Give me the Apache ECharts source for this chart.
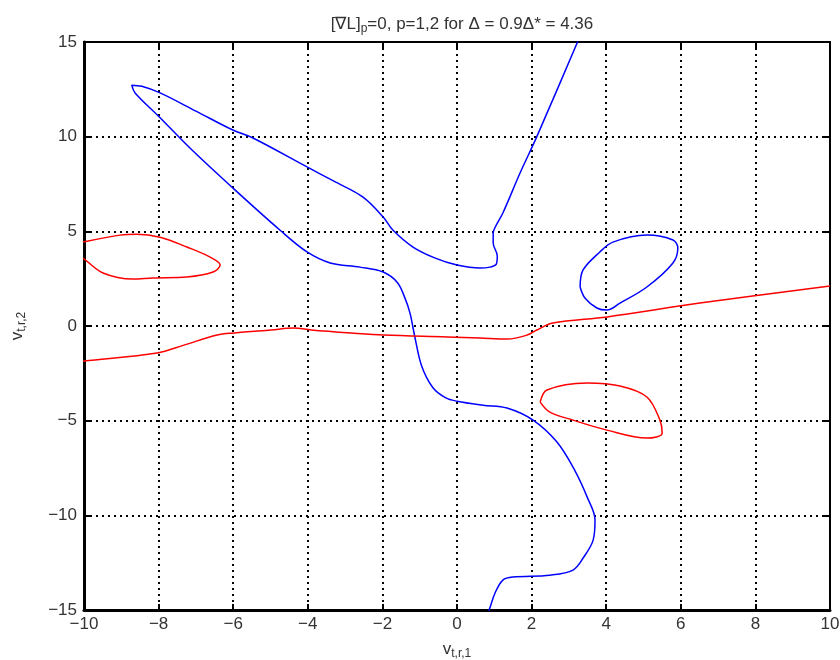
<!DOCTYPE html>
<html>
<head>
<meta charset="utf-8">
<script src="https://cdn.jsdelivr.net/npm/echarts@6/dist/echarts.min.js"></script>
<style>html,body{margin:0;padding:0;background:#fff;}#c{width:840px;height:660px;}</style>
</head>
<body>
<div id="c"></div>
<script>
var xTicks = [-10, -8, -6, -4, -2, 0, 2, 4, 6, 8, 10];
var yTicks = [-15, -10, -5, 0, 5, 10, 15];

// Blue curve: top -> big loop -> down to bottom
var blueMain = [
  [3.27, 15.2], [3.22, 14.95], [2.14, 10.0], [1.69, 8.08], [1.23, 5.97], [1.02, 5.2], [0.97, 4.91],
  [0.97, 4.38], [1.08, 3.7], [1.05, 3.25], [0.88, 3.11], [0.62, 3.06], [0.00, 3.22], [-0.6, 3.6],
  [-1.18, 4.17], [-1.72, 5.07], [-1.98, 5.76], [-2.52, 6.81], [-3.3, 7.65], [-4.02, 8.40],
  [-5.47, 9.93], [-6.01, 10.35], [-7.0, 11.35], [-7.96, 12.31], [-8.45, 12.66], [-8.72, 12.72],
  [-8.63, 12.31], [-7.98, 11.04], [-7.16, 9.40], [-6.01, 7.29], [-4.75, 5.07],
  [-4.02, 3.91], [-3.40, 3.33], [-2.60, 3.11], [-1.98, 2.85], [-1.60, 2.30], [-1.40, 1.50],
  [-1.26, 0.68], [-1.13, -0.58], [-0.95, -2.1], [-0.65, -3.25], [-0.30, -3.80], [0.00, -3.97],
  [0.7, -4.18], [1.34, -4.33], [2.04, -4.97], [2.68, -6.13], [3.15, -7.6], [3.49, -9.04],
  [3.70, -10.25], [3.65, -11.31], [3.40, -12.20], [3.11, -12.89], [2.49, -13.16], [1.50, -13.26],
  [1.23, -13.42], [1.02, -14.10], [0.88, -14.90], [0.80, -15.3]
];
// Blue small closed loop
var blueLoop = [
  [3.30, 2.06], [3.38, 2.96], [3.83, 3.91], [4.18, 4.43], [5.09, 4.80], [5.79, 4.54],
  [5.92, 4.12], [5.79, 3.33], [5.09, 2.06], [4.37, 1.21], [4.02, 0.84], [3.75, 0.95],
  [3.43, 1.48], [3.30, 2.06]
];
// Red long curve
var redMain = [
  [-10.2, -1.9], [-10.0, -1.85], [-8.04, -1.43], [-7.32, -1.01], [-6.43, -0.48],
  [-5.98, -0.37], [-4.99, -0.21], [-4.37, -0.11], [-3.91, -0.21], [-2.84, -0.37],
  [-1.96, -0.48], [-0.27, -0.58], [0.62, -0.64], [1.34, -0.69], [1.88, -0.48],
  [2.14, -0.21], [2.57, 0.16], [4.02, 0.48], [6.51, 1.21], [10.0, 2.11]
];
// Red loop upper left (partly outside)
var redLoopLeft = [
  [-10.5, 4.2], [-10.03, 4.43], [-9.03, 4.80], [-8.58, 4.85], [-7.96, 4.69], [-7.24, 4.17],
  [-6.62, 3.64], [-6.35, 3.22], [-6.54, 2.85], [-7.24, 2.59], [-8.15, 2.54], [-8.69, 2.48],
  [-9.49, 2.80], [-10.03, 3.59], [-10.5, 4.2]
];
// Red loop lower right
var redLoopRight = [
  [2.23, -4.02], [2.41, -3.38], [3.49, -3.01], [4.37, -3.17], [5.09, -3.75], [5.44, -4.97],
  [5.50, -5.66], [5.09, -5.92], [4.02, -5.50], [3.11, -4.97], [2.49, -4.55], [2.23, -4.02]
];

var chart = echarts.init(document.getElementById('c'));
var FONT = 'Liberation Sans, Arial, sans-serif';
var gridLine = {show: true, lineStyle: {color: '#000', type: [2, 4], width: 2}};
function fmt(v) { return String(v).replace('-', '\u2212'); }
function line(data, color) {
  return {type: 'line', data: data, showSymbol: false, smooth: 0.35, clip: true,
    lineStyle: {color: color, width: 1.5}, itemStyle: {color: color}, z: 5, animation: false};
}
var subRich = {sub: {fontSize: 12, verticalAlign: 'bottom', padding: [10, 0, 0, 0], color: '#333', fontFamily: FONT}};
chart.setOption({
  animation: false,
  backgroundColor: '#fff',
  title: {
    text: '[\u2207L]{sub|p}=0, p=1,2 for \u0394 = 0.9\u0394* = 4.36',
    left: 457, top: 9, textAlign: 'center',
    textStyle: {fontFamily: FONT, fontSize: 17, fontWeight: 'normal', color: '#333',
      rich: {sub: {fontSize: 12, verticalAlign: 'bottom', padding: [9, 0, 0, 0], fontFamily: FONT, color: '#333'}}}
  },
  grid: {left: 84, right: 10, top: 42, bottom: 50, containLabel: false, outerBoundsMode: 'none',
    show: true, borderColor: '#000', borderWidth: 2, backgroundColor: '#fff'},
  xAxis: [{
    type: 'value', min: -10, max: 10, interval: 2, position: 'bottom',
    axisLine: {show: true, onZero: false, lineStyle: {color: '#000', width: 3}},
    axisTick: {show: true, inside: true, length: 6, lineStyle: {color: '#000', width: 2}},
    axisLabel: {color: '#333', fontSize: 17, fontFamily: FONT, margin: 6, formatter: fmt},
    splitLine: gridLine,
    name: 'v{sub|t,r,1}', nameLocation: 'middle', nameGap: 28,
    nameTextStyle: {color: '#333', fontSize: 17, fontFamily: FONT, rich: subRich}
  }, {
    type: 'value', min: -10, max: 10, interval: 2, position: 'top',
    axisLine: {show: true, onZero: false, lineStyle: {color: '#000', width: 2}},
    axisTick: {show: true, inside: true, length: 6, lineStyle: {color: '#000', width: 2}},
    axisLabel: {show: false}, splitLine: {show: false}
  }],
  yAxis: [{
    type: 'value', min: -15, max: 15, interval: 5, position: 'left',
    axisLine: {show: true, onZero: false, lineStyle: {color: '#000', width: 3}},
    axisTick: {show: true, inside: true, length: 6, lineStyle: {color: '#000', width: 2}},
    axisLabel: {color: '#333', fontSize: 17, fontFamily: FONT, margin: 7, formatter: fmt},
    splitLine: gridLine,
    name: 'v{sub|t,r,2}', nameLocation: 'middle', nameGap: 56, nameRotate: 90,
    nameTextStyle: {color: '#333', fontSize: 17, fontFamily: FONT, rich: subRich}
  }, {
    type: 'value', min: -15, max: 15, interval: 5, position: 'right',
    axisLine: {show: true, onZero: false, lineStyle: {color: '#000', width: 2}},
    axisTick: {show: true, inside: true, length: 6, lineStyle: {color: '#000', width: 2}},
    axisLabel: {show: false}, splitLine: {show: false}
  }],
  series: [
    line(blueMain, '#0000ff'),
    line(blueLoop, '#0000ff'),
    line(redMain, '#ff0000'),
    line(redLoopLeft, '#ff0000'),
    line(redLoopRight, '#ff0000')
  ]
});
</script>
</body>
</html>
